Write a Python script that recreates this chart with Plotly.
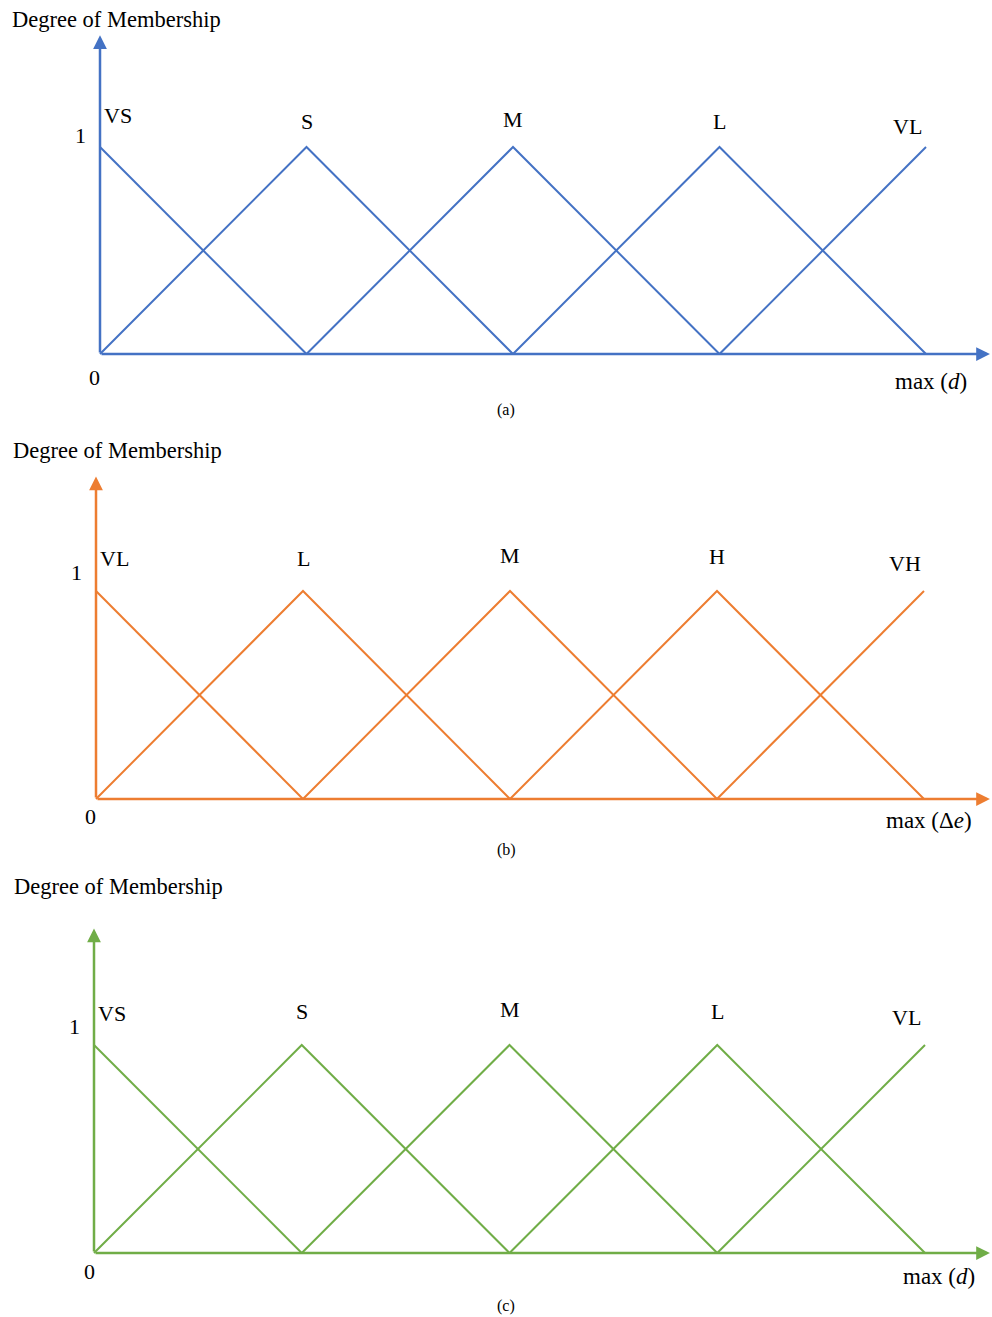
import plotly.graph_objects as go

W, H = 992, 1317

# ---- data ----
peaks = [0, 1, 2, 3, 4]          # centres of the triangular membership functions
x_max = 4                         # universe of discourse: 0 .. max
terms_a = ["VS", "S", "M", "L", "VL"]
terms_b = ["VL", "L", "M", "H", "VH"]
terms_c = ["VS", "S", "M", "L", "VL"]
var_a = "max (<i>d</i>)"
var_b = "max (Δ<i>e</i>)"
var_c = "max (<i>d</i>)"
captions = ["(a)", "(b)", "(c)"]
y_title = "Degree of Membership"

# ---- styles / geometry (pixels in the 992x1317 page) ----
colors = ["#4472C4", "#ED7D31", "#70AD47"]
FONT = "Liberation Serif"
panels = [
    dict(terms=terms_a, var=var_a, cap=captions[0], color=colors[0],
         band=(0, 430), x0=100, xunit=206.5, base=354, yunit=207, ytip=1.54,
         yshift=[32, 26, 28, 26, 21], title=(116, 20), one=(80, 135), zero=(94, 378),
         varpos=(931, 381), cappos=(506, 410)),
    dict(terms=terms_b, var=var_b, cap=captions[1], color=colors[1],
         band=(430, 870), x0=96, xunit=207, base=799, yunit=208, ytip=1.55,
         yshift=[33, 33, 36, 35, 28], title=(117, 451), one=(76, 572), zero=(90, 816),
         varpos=(929, 820), cappos=(506, 850)),
    dict(terms=terms_c, var=var_c, cap=captions[2], color=colors[2],
         band=(870, 1317), x0=94, xunit=207.75, base=1253, yunit=208, ytip=1.56,
         yshift=[32, 34, 36, 34, 28], title=(118, 887), one=(74, 1026), zero=(89, 1271),
         varpos=(939, 1276), cappos=(506, 1306)),
]
xshift_terms = [18, 0, 0, 0, -19]


def P(px, py):
    return px / W, 1 - py / H


fig = go.Figure()
annotations = []
layout_axes = {}

for i, pn in enumerate(panels):
    k = "" if i == 0 else str(i + 1)
    xa, ya = "x" + k, "y" + k
    top, bot = pn["band"]
    # axis ranges so that data->pixel mapping matches the reference
    xr = [-pn["x0"] / pn["xunit"], (W - pn["x0"]) / pn["xunit"]]
    yr = [(pn["base"] - bot) / pn["yunit"], (pn["base"] - top) / pn["yunit"]]
    layout_axes["xaxis" + k] = dict(domain=[0, 1], range=xr, anchor=ya, visible=False, fixedrange=True)
    layout_axes["yaxis" + k] = dict(domain=[1 - bot / H, 1 - top / H], range=yr, anchor=xa,
                                    visible=False, fixedrange=True)

    # triangular membership functions
    for p in peaks:
        pts = [(p - 1, 0), (p, 1), (p + 1, 0)]
        pts = [(x, y) for x, y in pts if 0 <= x <= x_max]
        fig.add_trace(go.Scatter(x=[q[0] for q in pts], y=[q[1] for q in pts], mode="lines",
                                 line=dict(color=pn["color"], width=2), xaxis=xa, yaxis=ya,
                                 showlegend=False, hoverinfo="skip"))

    # axes with arrows
    tipx = xr[1] - 0.01
    annotations.append(dict(x=tipx, y=0, ax=0, ay=0, xref=xa, yref=ya, axref=xa, ayref=ya,
                            showarrow=True, arrowhead=2, arrowsize=1.1, arrowwidth=2.5,
                            arrowcolor=pn["color"], text="", standoff=0))
    annotations.append(dict(x=0, y=pn["ytip"], ax=0, ay=0, xref=xa, yref=ya, axref=xa, ayref=ya,
                            showarrow=True, arrowhead=2, arrowsize=1.1, arrowwidth=2.5,
                            arrowcolor=pn["color"], text="", standoff=0))

    # term labels above the peaks
    for j, (p, t) in enumerate(zip(peaks, pn["terms"])):
        annotations.append(dict(x=p, y=1, xref=xa, yref=ya, text=t, showarrow=False,
                                xshift=xshift_terms[j], yshift=pn["yshift"][j],
                                font=dict(family=FONT, size=22, color="black")))

    # other texts
    for txt, pos, size in [(y_title, pn["title"], 22.5), ("1", pn["one"], 22), ("0", pn["zero"], 22),
                           (pn["var"], pn["varpos"], 23), (pn["cap"], pn["cappos"], 16)]:
        px_, py_ = P(*pos)
        annotations.append(dict(x=px_, y=py_, xref="paper", yref="paper", text=txt,
                                showarrow=False, xanchor="center", yanchor="middle",
                                font=dict(family=FONT, size=size, color="black")))

fig.update_layout(width=W, height=H, margin=dict(l=0, r=0, t=0, b=0),
                  paper_bgcolor="white", plot_bgcolor="white",
                  annotations=annotations, **layout_axes)

fig.write_html("out.html", config={"displayModeBar": False},
               post_script="document.body.style.margin='0px';document.body.style.padding='0px';")
